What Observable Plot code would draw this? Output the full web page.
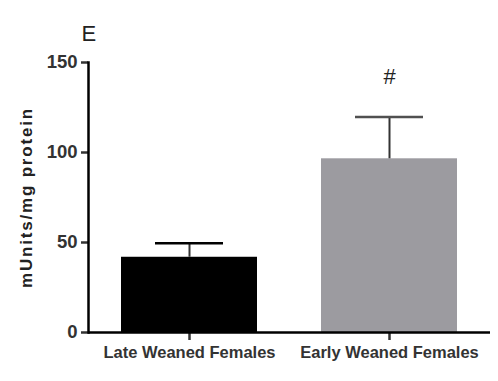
<!DOCTYPE html>
<html>
<head>
<meta charset="utf-8">
<script src="https://cdn.jsdelivr.net/npm/d3@7"></script>
<script src="https://cdn.jsdelivr.net/npm/@observablehq/plot@0.6"></script>
<style>
  html, body { margin: 0; padding: 0; background: #fff; }
  svg { display: block; }
  .ylab text { letter-spacing: 1.8px; }
</style>
</head>
<body>
<div id="chart"></div>
<script>
const groups = ["Late Weaned Females", "Early Weaned Females"];
const means = [41.8, 96.5];
const errors = [7.8, 23.2];
const marks_sig = ["", "#"];
const colors = ["#000000", "#9c9ba0"];
const capColors = ["#000000", "#505050"];
const yTicks = [0, 50, 100, 150];
const panelLabel = "E";
const yLabel = "mUnits/mg protein";

const data = groups.map((g, i) => ({group: g, mean: means[i], top: means[i] + errors[i], sig: marks_sig[i], fill: colors[i], cap: capColors[i]}));

const chart = Plot.plot({
  width: 498,
  height: 381,
  marginLeft: 88,
  marginRight: 8,
  marginTop: 62,
  marginBottom: 49,
  style: {fontFamily: "Liberation Sans, Arial, sans-serif", background: "#fff"},
  x: {domain: groups, paddingInner: 0.318, paddingOuter: 0.16, label: null},
  y: {domain: [0, 150], label: null},
  marks: [
    Plot.barY(data, {x: "group", y: "mean", fill: "fill"}),
    Plot.ruleX(data, {x: "group", y1: "mean", y2: "top", stroke: "#333", strokeWidth: 2}),
    Plot.tickY(data, {x: "group", y: "top", stroke: "cap", strokeWidth: 2.5, insetLeft: 34, insetRight: 34}),
    Plot.text(data, {x: "group", y: "top", text: "sig", dy: -40, fontSize: 22, fill: "#222"}),
    Plot.text([panelLabel], {frameAnchor: "top-left", text: d => d, dx: -7, dy: -37, fontSize: 22, fill: "#222", textAnchor: "start"}),
    Plot.text([yLabel], {frameAnchor: "left", text: d => d, rotate: -90, dx: -62, dy: 0, fontSize: 17, fontWeight: "bold", fill: "#222", textAnchor: "middle", className: "ylab"}),
    Plot.axisY({ticks: yTicks, tickSize: 7, tickPadding: 4, fontSize: 18.5, fontWeight: "bold", color: "#333", strokeWidth: 2.5, label: null}),
    Plot.axisX({tickSize: 8, tickPadding: 6, fontSize: 16.5, fontWeight: "bold", color: "#333", strokeWidth: 2.5, label: null}),
    Plot.frame({anchor: "left", strokeWidth: 2.5}),
    Plot.ruleY([0], {strokeWidth: 2.5})
  ]
});
document.getElementById("chart").appendChild(chart);
</script>
</body>
</html>
